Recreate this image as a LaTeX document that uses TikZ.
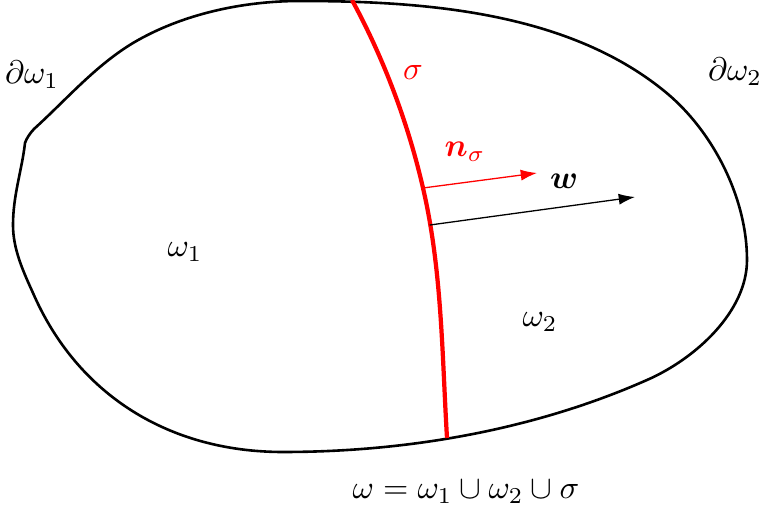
\documentclass[tikz,border=0pt]{standalone}
\usepackage{amsmath,bm}
\usetikzlibrary{arrows.meta,calc}
\usepackage{tkz-euclide}
\definecolor{SigmaClr}{rgb}{1,0,0}
\definecolor{BoundClr}{rgb}{0,0,0}

\begin{document}
\begin{tikzpicture}[x=0.0108cm,y=-0.0108cm]
\useasboundingbox (0,0) rectangle (763,513);
\tkzSetUpLine[line width=0.4pt,color=black]

\tkzDefPoints{423/188/N1,537/173/N2,430/225/W1,635/197/W2}

% outer boundary of omega
\draw[BoundClr,line width=0.8pt] (300,1)
  .. controls (425,1) and (566,12) .. (663,90)
  .. controls (712,129) and (747,197) .. (747,260)
  .. controls (747,312) and (695,359) .. (647,380)
  .. controls (534,430) and (407,452) .. (283,452)
  .. controls (168,452) and (77,394) .. (33,293)
  .. controls (23,271) and (13,249) .. (13,225)
  .. controls (13,195) and (22,170) .. (25,143)
  .. controls (26,139) and (31,132) .. (34,129)
  .. controls (67,99) and (95,66) .. (133,43)
  .. controls (182,14) and (243,1) .. (300,1) -- cycle;

% interface sigma
\draw[SigmaClr,line width=1.3pt] (352,0)
  .. controls (384,59) and (408,123) .. (423,188)
  .. controls (442,270) and (442,354) .. (447,438);

\tkzDrawSegment[color=SigmaClr,-{Latex[length=5pt,width=3.4pt]}](N1,N2)
\tkzDrawSegment[-{Latex[length=5pt,width=3.4pt]}](W1,W2)

\node (dw1) at (32,75) {$\partial\omega_1$};
\node (dw2) at (735,72) {$\partial\omega_2$};
\node[SigmaClr] (sig) at (413,73) {$\sigma$};
\node[SigmaClr] (nsig) at (465,152) {$\bm{n}_\sigma$};
\node (w) at (564,181) {$\bm{w}$};
\node (om1) at (185,252) {$\omega_1$};
\node (om2) at (540,322) {$\omega_2$};
\node (om) at (466,492) {$\omega=\omega_1\cup\omega_2\cup\sigma$};

\end{tikzpicture}
\end{document}
